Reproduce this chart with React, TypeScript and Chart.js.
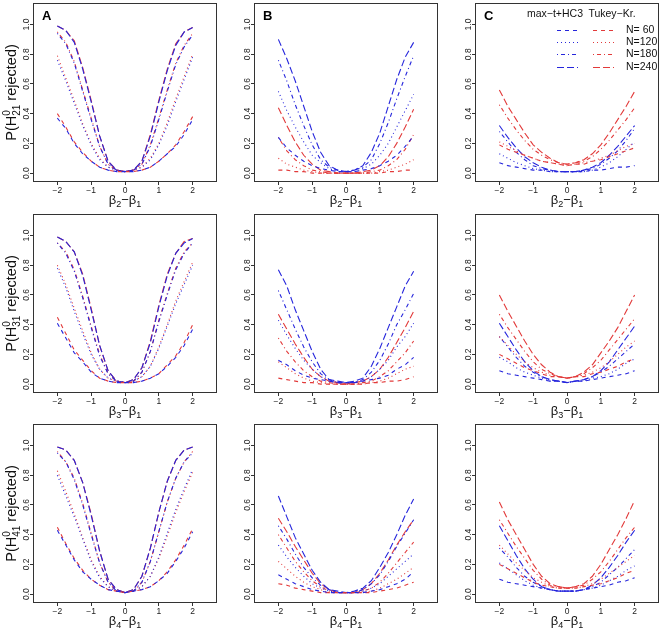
import React, { useEffect, useRef } from "react";
import { Chart, registerables } from "chart.js";

Chart.register(...registerables);

// ---------------- data ----------------
const X_VALUES = [-2, -1.75, -1.5, -1.25, -1, -0.75, -0.5, -0.25, 0, 0.25, 0.5, 0.75, 1, 1.25, 1.5, 1.75, 2];
const X_TICKS = [-2, -1, 0, 1, 2];
const X_TICK_LABELS = ["\u22122", "\u22121", "0", "1", "2"];
const Y_TICKS = [0, 0.2, 0.4, 0.6, 0.8, 1.0];
const Y_TICK_LABELS = ["0.0", "0.2", "0.4", "0.6", "0.8", "1.0"];
const N_LABELS = ["N= 60", "N=120", "N=180", "N=240"];
const METHOD_LABELS = ["max\u2212t+HC3", "Tukey\u2212Kr."];
const PANEL_LETTERS = ["A", "B", "C"];
const H_SUBSCRIPTS = ["21", "31", "41"];
const BETA_SUBSCRIPTS = ["2", "3", "4"];

// Column A, H21
const A21_MAXT_60 = [0.37, 0.30, 0.20, 0.13, 0.08, 0.04, 0.02, 0.01, 0.01, 0.01, 0.02, 0.04, 0.08, 0.13, 0.18, 0.26, 0.36];
const A21_MAXT_120 = [0.76, 0.62, 0.47, 0.32, 0.19, 0.09, 0.04, 0.02, 0.01, 0.02, 0.04, 0.09, 0.19, 0.32, 0.48, 0.63, 0.78];
const A21_MAXT_180 = [0.94, 0.87, 0.74, 0.55, 0.36, 0.18, 0.06, 0.02, 0.01, 0.02, 0.06, 0.18, 0.36, 0.55, 0.73, 0.85, 0.93];
const A21_MAXT_240 = [0.99, 0.96, 0.88, 0.70, 0.48, 0.25, 0.08, 0.02, 0.01, 0.02, 0.08, 0.25, 0.48, 0.69, 0.86, 0.95, 0.98];
const A21_TK_60 = [0.40, 0.31, 0.21, 0.14, 0.08, 0.04, 0.02, 0.01, 0.01, 0.01, 0.02, 0.04, 0.08, 0.13, 0.19, 0.28, 0.38];
const A21_TK_120 = [0.79, 0.64, 0.49, 0.33, 0.20, 0.10, 0.04, 0.02, 0.01, 0.02, 0.04, 0.10, 0.20, 0.34, 0.50, 0.65, 0.80];
const A21_TK_180 = [0.95, 0.88, 0.75, 0.56, 0.37, 0.18, 0.06, 0.02, 0.01, 0.02, 0.06, 0.19, 0.37, 0.56, 0.74, 0.86, 0.94];
const A21_TK_240 = [0.99, 0.96, 0.89, 0.71, 0.49, 0.25, 0.08, 0.02, 0.01, 0.02, 0.08, 0.26, 0.49, 0.70, 0.87, 0.95, 0.98];

// Column A, H31
const A31_MAXT_60 = [0.41, 0.31, 0.21, 0.15, 0.08, 0.04, 0.02, 0.01, 0.01, 0.01, 0.02, 0.04, 0.07, 0.12, 0.18, 0.26, 0.37];
const A31_MAXT_120 = [0.78, 0.65, 0.49, 0.34, 0.20, 0.10, 0.04, 0.02, 0.01, 0.02, 0.05, 0.12, 0.24, 0.39, 0.54, 0.67, 0.80];
const A31_MAXT_180 = [0.95, 0.88, 0.76, 0.58, 0.38, 0.19, 0.07, 0.02, 0.01, 0.02, 0.08, 0.22, 0.42, 0.60, 0.77, 0.88, 0.95];
const A31_MAXT_240 = [0.99, 0.96, 0.89, 0.73, 0.50, 0.26, 0.09, 0.02, 0.01, 0.03, 0.11, 0.28, 0.52, 0.73, 0.88, 0.95, 0.98];
const A31_TK_60 = [0.45, 0.34, 0.23, 0.16, 0.09, 0.04, 0.02, 0.01, 0.01, 0.01, 0.02, 0.04, 0.07, 0.13, 0.19, 0.28, 0.40];
const A31_TK_120 = [0.80, 0.67, 0.51, 0.36, 0.21, 0.10, 0.04, 0.02, 0.01, 0.02, 0.05, 0.12, 0.25, 0.40, 0.56, 0.69, 0.82];
const A31_TK_180 = [0.95, 0.89, 0.77, 0.59, 0.39, 0.20, 0.07, 0.02, 0.01, 0.02, 0.08, 0.22, 0.43, 0.61, 0.78, 0.89, 0.95];
const A31_TK_240 = [0.99, 0.96, 0.89, 0.74, 0.51, 0.26, 0.09, 0.02, 0.01, 0.03, 0.11, 0.29, 0.53, 0.74, 0.88, 0.96, 0.98];

// Column A, H41
const A41_MAXT_60 = [0.43, 0.33, 0.23, 0.15, 0.10, 0.06, 0.03, 0.02, 0.01, 0.02, 0.03, 0.05, 0.09, 0.14, 0.22, 0.31, 0.42];
const A41_MAXT_120 = [0.80, 0.66, 0.52, 0.37, 0.22, 0.11, 0.05, 0.02, 0.01, 0.02, 0.05, 0.12, 0.25, 0.41, 0.57, 0.71, 0.84];
const A41_MAXT_180 = [0.95, 0.89, 0.77, 0.60, 0.40, 0.21, 0.08, 0.02, 0.01, 0.02, 0.08, 0.22, 0.42, 0.62, 0.78, 0.89, 0.95];
const A41_MAXT_240 = [0.99, 0.97, 0.90, 0.75, 0.53, 0.29, 0.10, 0.03, 0.01, 0.03, 0.12, 0.31, 0.55, 0.76, 0.90, 0.97, 0.99];
const A41_TK_60 = [0.45, 0.34, 0.24, 0.16, 0.10, 0.06, 0.03, 0.02, 0.01, 0.02, 0.03, 0.05, 0.09, 0.15, 0.23, 0.33, 0.44];
const A41_TK_120 = [0.83, 0.69, 0.54, 0.38, 0.23, 0.12, 0.05, 0.02, 0.01, 0.02, 0.05, 0.12, 0.24, 0.39, 0.55, 0.69, 0.82];
const A41_TK_180 = [0.96, 0.89, 0.78, 0.61, 0.41, 0.21, 0.08, 0.02, 0.01, 0.02, 0.08, 0.22, 0.42, 0.62, 0.78, 0.89, 0.96];
const A41_TK_240 = [0.99, 0.97, 0.90, 0.75, 0.54, 0.29, 0.10, 0.03, 0.01, 0.03, 0.12, 0.31, 0.55, 0.76, 0.90, 0.97, 0.99];

// Column B, H21
const B21_MAXT_60 = [0.24, 0.17, 0.12, 0.08, 0.05, 0.03, 0.02, 0.01, 0.01, 0.01, 0.02, 0.03, 0.05, 0.08, 0.12, 0.18, 0.25];
const B21_MAXT_120 = [0.55, 0.42, 0.31, 0.21, 0.12, 0.07, 0.03, 0.01, 0.01, 0.01, 0.03, 0.06, 0.12, 0.20, 0.31, 0.42, 0.53];
const B21_MAXT_180 = [0.76, 0.62, 0.46, 0.32, 0.19, 0.09, 0.04, 0.02, 0.01, 0.02, 0.04, 0.09, 0.20, 0.34, 0.50, 0.65, 0.79];
const B21_MAXT_240 = [0.90, 0.77, 0.62, 0.45, 0.28, 0.14, 0.05, 0.02, 0.01, 0.02, 0.05, 0.14, 0.27, 0.45, 0.63, 0.78, 0.88];
const B21_TK_60 = [0.02, 0.02, 0.01, 0.01, 0.00, 0.00, 0.00, 0.00, 0.00, 0.00, 0.00, 0.00, 0.00, 0.01, 0.01, 0.02, 0.02];
const B21_TK_120 = [0.10, 0.06, 0.04, 0.02, 0.01, 0.00, 0.00, 0.00, 0.00, 0.00, 0.00, 0.00, 0.01, 0.02, 0.04, 0.06, 0.09];
const B21_TK_180 = [0.24, 0.15, 0.09, 0.05, 0.02, 0.01, 0.00, 0.00, 0.00, 0.00, 0.00, 0.01, 0.02, 0.05, 0.09, 0.16, 0.26];
const B21_TK_240 = [0.44, 0.32, 0.21, 0.12, 0.06, 0.02, 0.01, 0.00, 0.00, 0.00, 0.01, 0.02, 0.05, 0.11, 0.20, 0.31, 0.43];

// Column B, H31
const B31_MAXT_60 = [0.16, 0.13, 0.09, 0.06, 0.04, 0.03, 0.02, 0.01, 0.01, 0.01, 0.02, 0.03, 0.04, 0.06, 0.10, 0.13, 0.18];
const B31_MAXT_120 = [0.43, 0.33, 0.24, 0.16, 0.10, 0.05, 0.02, 0.01, 0.01, 0.01, 0.02, 0.05, 0.10, 0.16, 0.25, 0.32, 0.41];
const B31_MAXT_180 = [0.63, 0.50, 0.37, 0.25, 0.15, 0.07, 0.03, 0.01, 0.01, 0.01, 0.03, 0.08, 0.16, 0.27, 0.40, 0.50, 0.61];
const B31_MAXT_240 = [0.77, 0.66, 0.50, 0.36, 0.22, 0.10, 0.03, 0.02, 0.01, 0.02, 0.04, 0.12, 0.24, 0.38, 0.52, 0.66, 0.76];
const B31_TK_60 = [0.04, 0.03, 0.02, 0.01, 0.01, 0.00, 0.00, 0.00, 0.00, 0.00, 0.00, 0.01, 0.01, 0.02, 0.02, 0.03, 0.05];
const B31_TK_120 = [0.15, 0.11, 0.07, 0.04, 0.02, 0.01, 0.00, 0.00, 0.00, 0.00, 0.00, 0.01, 0.02, 0.04, 0.07, 0.10, 0.12];
const B31_TK_180 = [0.31, 0.22, 0.15, 0.09, 0.05, 0.02, 0.01, 0.00, 0.00, 0.00, 0.01, 0.02, 0.05, 0.09, 0.15, 0.21, 0.29];
const B31_TK_240 = [0.47, 0.37, 0.27, 0.18, 0.10, 0.05, 0.02, 0.01, 0.00, 0.01, 0.02, 0.05, 0.10, 0.18, 0.28, 0.38, 0.49];

// Column B, H41
const B41_MAXT_60 = [0.13, 0.10, 0.07, 0.05, 0.03, 0.02, 0.01, 0.01, 0.01, 0.01, 0.01, 0.02, 0.03, 0.05, 0.07, 0.10, 0.15];
const B41_MAXT_120 = [0.33, 0.25, 0.18, 0.12, 0.07, 0.04, 0.02, 0.01, 0.01, 0.01, 0.02, 0.04, 0.07, 0.12, 0.17, 0.22, 0.27];
const B41_MAXT_180 = [0.46, 0.37, 0.27, 0.18, 0.11, 0.06, 0.03, 0.01, 0.01, 0.01, 0.03, 0.07, 0.13, 0.22, 0.32, 0.41, 0.50];
const B41_MAXT_240 = [0.66, 0.52, 0.38, 0.27, 0.16, 0.08, 0.03, 0.02, 0.01, 0.02, 0.04, 0.09, 0.18, 0.28, 0.40, 0.53, 0.64];
const B41_TK_60 = [0.07, 0.06, 0.04, 0.03, 0.02, 0.01, 0.01, 0.01, 0.01, 0.01, 0.01, 0.01, 0.02, 0.03, 0.04, 0.06, 0.08];
const B41_TK_120 = [0.22, 0.17, 0.12, 0.08, 0.05, 0.03, 0.01, 0.01, 0.01, 0.01, 0.01, 0.02, 0.04, 0.07, 0.10, 0.14, 0.18];
const B41_TK_180 = [0.40, 0.31, 0.22, 0.15, 0.09, 0.05, 0.02, 0.01, 0.01, 0.01, 0.02, 0.04, 0.08, 0.14, 0.21, 0.28, 0.35];
const B41_TK_240 = [0.51, 0.42, 0.32, 0.23, 0.14, 0.07, 0.03, 0.01, 0.01, 0.01, 0.03, 0.07, 0.14, 0.23, 0.33, 0.42, 0.50];

// Column C, H21
const C21_MAXT_60 = [0.07, 0.05, 0.04, 0.03, 0.02, 0.02, 0.01, 0.01, 0.01, 0.01, 0.01, 0.02, 0.02, 0.03, 0.04, 0.04, 0.05];
const C21_MAXT_120 = [0.13, 0.10, 0.07, 0.05, 0.03, 0.02, 0.01, 0.01, 0.01, 0.01, 0.01, 0.02, 0.04, 0.07, 0.11, 0.16, 0.21];
const C21_MAXT_180 = [0.28, 0.21, 0.14, 0.09, 0.05, 0.03, 0.02, 0.01, 0.01, 0.01, 0.02, 0.03, 0.06, 0.10, 0.15, 0.22, 0.30];
const C21_MAXT_240 = [0.32, 0.24, 0.17, 0.11, 0.07, 0.04, 0.02, 0.01, 0.01, 0.01, 0.02, 0.04, 0.07, 0.12, 0.18, 0.25, 0.32];
const C21_TK_60 = [0.19, 0.16, 0.14, 0.12, 0.10, 0.08, 0.07, 0.06, 0.05, 0.06, 0.06, 0.08, 0.09, 0.11, 0.13, 0.15, 0.17];
const C21_TK_120 = [0.21, 0.18, 0.15, 0.12, 0.10, 0.08, 0.07, 0.06, 0.05, 0.06, 0.07, 0.08, 0.10, 0.12, 0.15, 0.18, 0.20];
const C21_TK_180 = [0.46, 0.37, 0.29, 0.22, 0.16, 0.12, 0.09, 0.07, 0.06, 0.07, 0.08, 0.11, 0.16, 0.22, 0.29, 0.36, 0.44];
const C21_TK_240 = [0.56, 0.45, 0.36, 0.27, 0.19, 0.14, 0.10, 0.07, 0.06, 0.07, 0.09, 0.13, 0.19, 0.27, 0.36, 0.45, 0.55];

// Column C, H31
const C31_MAXT_60 = [0.09, 0.07, 0.06, 0.05, 0.04, 0.03, 0.02, 0.02, 0.01, 0.02, 0.02, 0.03, 0.04, 0.05, 0.06, 0.07, 0.09];
const C31_MAXT_120 = [0.18, 0.15, 0.11, 0.08, 0.06, 0.04, 0.02, 0.02, 0.01, 0.02, 0.02, 0.04, 0.05, 0.07, 0.10, 0.14, 0.17];
const C31_MAXT_180 = [0.32, 0.25, 0.18, 0.12, 0.08, 0.05, 0.03, 0.02, 0.01, 0.02, 0.03, 0.05, 0.08, 0.12, 0.17, 0.22, 0.27];
const C31_MAXT_240 = [0.41, 0.32, 0.23, 0.15, 0.09, 0.05, 0.03, 0.02, 0.01, 0.02, 0.03, 0.05, 0.09, 0.15, 0.23, 0.31, 0.39];
const C31_TK_60 = [0.20, 0.17, 0.14, 0.11, 0.09, 0.07, 0.05, 0.05, 0.04, 0.05, 0.05, 0.07, 0.08, 0.10, 0.12, 0.15, 0.17];
const C31_TK_120 = [0.32, 0.26, 0.20, 0.15, 0.11, 0.08, 0.06, 0.05, 0.04, 0.05, 0.06, 0.08, 0.11, 0.15, 0.20, 0.25, 0.29];
const C31_TK_180 = [0.47, 0.38, 0.30, 0.22, 0.15, 0.10, 0.07, 0.05, 0.04, 0.05, 0.07, 0.11, 0.16, 0.23, 0.30, 0.37, 0.44];
const C31_TK_240 = [0.60, 0.49, 0.39, 0.29, 0.20, 0.13, 0.08, 0.05, 0.04, 0.05, 0.08, 0.13, 0.21, 0.29, 0.38, 0.49, 0.60];

// Column C, H41
const C41_MAXT_60 = [0.10, 0.08, 0.07, 0.06, 0.05, 0.04, 0.03, 0.02, 0.02, 0.02, 0.03, 0.04, 0.05, 0.06, 0.08, 0.09, 0.11];
const C41_MAXT_120 = [0.21, 0.17, 0.13, 0.09, 0.06, 0.04, 0.03, 0.02, 0.02, 0.02, 0.03, 0.04, 0.06, 0.09, 0.12, 0.16, 0.19];
const C41_MAXT_180 = [0.31, 0.25, 0.18, 0.12, 0.08, 0.05, 0.03, 0.02, 0.02, 0.02, 0.03, 0.05, 0.08, 0.13, 0.18, 0.24, 0.30];
const C41_MAXT_240 = [0.46, 0.36, 0.26, 0.17, 0.10, 0.05, 0.03, 0.02, 0.02, 0.02, 0.03, 0.06, 0.11, 0.18, 0.26, 0.35, 0.43];
const C41_TK_60 = [0.20, 0.17, 0.14, 0.11, 0.08, 0.06, 0.05, 0.04, 0.04, 0.04, 0.05, 0.06, 0.07, 0.09, 0.11, 0.14, 0.16];
const C41_TK_120 = [0.33, 0.27, 0.21, 0.16, 0.11, 0.08, 0.05, 0.04, 0.04, 0.04, 0.05, 0.07, 0.10, 0.14, 0.18, 0.22, 0.26];
const C41_TK_180 = [0.50, 0.41, 0.32, 0.24, 0.16, 0.10, 0.06, 0.05, 0.04, 0.05, 0.06, 0.10, 0.15, 0.22, 0.30, 0.38, 0.45];
const C41_TK_240 = [0.62, 0.50, 0.40, 0.30, 0.20, 0.12, 0.07, 0.05, 0.04, 0.05, 0.07, 0.12, 0.20, 0.30, 0.40, 0.51, 0.63];

// grid of panels [row][col] -> { maxt: [N60..N240], tukey: [N60..N240] }
const PANELS = [
  [
    { maxt: [A21_MAXT_60, A21_MAXT_120, A21_MAXT_180, A21_MAXT_240], tukey: [A21_TK_60, A21_TK_120, A21_TK_180, A21_TK_240] },
    { maxt: [B21_MAXT_60, B21_MAXT_120, B21_MAXT_180, B21_MAXT_240], tukey: [B21_TK_60, B21_TK_120, B21_TK_180, B21_TK_240] },
    { maxt: [C21_MAXT_60, C21_MAXT_120, C21_MAXT_180, C21_MAXT_240], tukey: [C21_TK_60, C21_TK_120, C21_TK_180, C21_TK_240] },
  ],
  [
    { maxt: [A31_MAXT_60, A31_MAXT_120, A31_MAXT_180, A31_MAXT_240], tukey: [A31_TK_60, A31_TK_120, A31_TK_180, A31_TK_240] },
    { maxt: [B31_MAXT_60, B31_MAXT_120, B31_MAXT_180, B31_MAXT_240], tukey: [B31_TK_60, B31_TK_120, B31_TK_180, B31_TK_240] },
    { maxt: [C31_MAXT_60, C31_MAXT_120, C31_MAXT_180, C31_MAXT_240], tukey: [C31_TK_60, C31_TK_120, C31_TK_180, C31_TK_240] },
  ],
  [
    { maxt: [A41_MAXT_60, A41_MAXT_120, A41_MAXT_180, A41_MAXT_240], tukey: [A41_TK_60, A41_TK_120, A41_TK_180, A41_TK_240] },
    { maxt: [B41_MAXT_60, B41_MAXT_120, B41_MAXT_180, B41_MAXT_240], tukey: [B41_TK_60, B41_TK_120, B41_TK_180, B41_TK_240] },
    { maxt: [C41_MAXT_60, C41_MAXT_120, C41_MAXT_180, C41_MAXT_240], tukey: [C41_TK_60, C41_TK_120, C41_TK_180, C41_TK_240] },
  ],
];

// ---------------- styles ----------------
const BLUE = "#2626dc";
const RED = "#e23a3a";
const DASHES = [[4, 4], [1, 3], [1, 3, 4, 3], [7, 3]];
const FONT = "'Liberation Sans', Arial, Helvetica, sans-serif";
const AXIS_COLOR = "#333";

const CELL_W = 221;
const CELL_H = 211;
const ROW_TOPS = [0, 211, 421];
const BOX_LEFT = 33;
const BOX_TOP = 3;
const BOX_W = 184;
const BOX_H = 179;

function drawRich(ctx: CanvasRenderingContext2D, parts: { t: string; kind: "n" | "sub" | "stack"; t2?: string }[], cx: number, cy: number, size: number) {
  const small = Math.round(size * 0.7);
  const measure = (p: any) => {
    if (p.kind === "n") { ctx.font = `${size}px ${FONT}`; return ctx.measureText(p.t).width; }
    ctx.font = `${small}px ${FONT}`;
    if (p.kind === "sub") return ctx.measureText(p.t).width;
    return Math.max(ctx.measureText(p.t).width, ctx.measureText(p.t2).width);
  };
  const widths = parts.map(measure);
  const total = widths.reduce((a, b) => a + b, 0);
  let x = cx - total / 2;
  ctx.textBaseline = "alphabetic";
  ctx.textAlign = "left";
  const base = cy + size * 0.35;
  parts.forEach((p, i) => {
    if (p.kind === "n") {
      ctx.font = `${size}px ${FONT}`;
      ctx.fillText(p.t, x, base);
    } else if (p.kind === "sub") {
      ctx.font = `${small}px ${FONT}`;
      ctx.fillText(p.t, x, base + size * 0.25);
    } else {
      ctx.font = `${small}px ${FONT}`;
      ctx.fillText(p.t, x, base - size * 0.45);
      ctx.fillText(p.t2 as string, x, base + size * 0.28);
    }
    x += widths[i];
  });
}

function makeDecor(row: number, col: number) {
  return {
    id: "decor" + row + col,
    afterDraw(chart: any) {
      const { ctx, chartArea, scales } = chart;
      const { left, right, top, bottom } = chartArea;
      ctx.save();
      // box
      ctx.strokeStyle = AXIS_COLOR;
      ctx.lineWidth = 1;
      ctx.setLineDash([]);
      ctx.strokeRect(Math.round(left) + 0.5, Math.round(top) + 0.5, Math.round(right - left) - 1, Math.round(bottom - top) - 1);
      // y tick labels (rotated as in R)
      ctx.fillStyle = "#222";
      ctx.font = `8.5px ${FONT}`;
      ctx.textAlign = "center";
      ctx.textBaseline = "middle";
      Y_TICKS.forEach((v, i) => {
        const y = scales.y.getPixelForValue(v);
        ctx.save();
        ctx.translate(left - 6.5, y);
        ctx.rotate(-Math.PI / 2);
        ctx.fillText(Y_TICK_LABELS[i], 0, 0);
        ctx.restore();
      });
      // x title
      ctx.fillStyle = "#111";
      drawRich(ctx, [
        { t: "\u03b2", kind: "n" },
        { t: BETA_SUBSCRIPTS[row], kind: "sub" },
        { t: "\u2212\u03b2", kind: "n" },
        { t: "1", kind: "sub" },
      ], (left + right) / 2, bottom + 17, 13);
      // y title (first column only)
      if (col === 0) {
        ctx.save();
        ctx.translate(left - 22, (top + bottom) / 2);
        ctx.rotate(-Math.PI / 2);
        drawRich(ctx, [
          { t: "P(H", kind: "n" },
          { t: "0", t2: H_SUBSCRIPTS[row], kind: "stack" },
          { t: " rejected)", kind: "n" },
        ], 0, 0, 14.5);
        ctx.restore();
      }
      // panel letter
      if (row === 0) {
        ctx.fillStyle = "#000";
        ctx.font = `bold 13px ${FONT}`;
        ctx.textAlign = "left";
        ctx.textBaseline = "middle";
        ctx.fillText(PANEL_LETTERS[col], left + 9, top + 13);
      }
      // legend
      if (row === 0 && col === 2) {
        ctx.fillStyle = "#111";
        ctx.font = `10.5px ${FONT}`;
        ctx.textAlign = "center";
        ctx.textBaseline = "middle";
        ctx.fillText(METHOD_LABELS[0], left + 80, top + 11);
        ctx.fillText(METHOD_LABELS[1], left + 137, top + 11);
        const rowsY = [27, 39.3, 51, 63.5];
        N_LABELS.forEach((lab, i) => {
          const y = Math.round(top + rowsY[i]) + 0.5;
          ctx.lineWidth = 1;
          ctx.setLineDash(DASHES[i]);
          ctx.strokeStyle = BLUE;
          ctx.beginPath(); ctx.moveTo(left + 82, y); ctx.lineTo(left + 103, y); ctx.stroke();
          ctx.strokeStyle = RED;
          ctx.beginPath(); ctx.moveTo(left + 118, y); ctx.lineTo(left + 139, y); ctx.stroke();
          ctx.setLineDash([]);
          ctx.textAlign = "left";
          ctx.fillText(lab, left + 151, y);
        });
      }
      ctx.restore();
    },
  };
}

function buildConfig(row: number, col: number): any {
  const panel = PANELS[row][col];
  const datasets: any[] = [];
  [0, 1, 2, 3].forEach((k) => {
    datasets.push({
      label: METHOD_LABELS[0] + " " + N_LABELS[k],
      data: X_VALUES.map((x, i) => ({ x, y: panel.maxt[k][i] })),
      borderColor: BLUE,
      borderWidth: 1.1,
      borderDash: DASHES[k],
      pointRadius: 0,
      fill: false,
      tension: 0,
    });
    datasets.push({
      label: METHOD_LABELS[1] + " " + N_LABELS[k],
      data: X_VALUES.map((x, i) => ({ x, y: panel.tukey[k][i] })),
      borderColor: RED,
      borderWidth: 1.1,
      borderDash: DASHES[k],
      pointRadius: 0,
      fill: false,
      tension: 0,
    });
  });
  return {
    type: "line",
    data: { datasets },
    options: {
      animation: false,
      responsive: false,
      maintainAspectRatio: false,
      devicePixelRatio: 1,
      layout: { padding: { top: BOX_TOP, right: CELL_W - BOX_LEFT - BOX_W, left: 0, bottom: 0 } },
      plugins: { legend: { display: false }, tooltip: { enabled: false }, title: { display: false } },
      scales: {
        x: {
          type: "linear",
          min: -2.72,
          max: 2.72,
          afterBuildTicks: (s: any) => { s.ticks = X_TICKS.map((v) => ({ value: v })); },
          afterFit: (s: any) => { s.height = CELL_H - BOX_TOP - BOX_H; },
          ticks: {
            autoSkip: false,
            maxRotation: 0,
            minRotation: 0,
            padding: 1,
            color: "#222",
            font: { size: 8.5, family: FONT },
            callback: (v: number) => X_TICK_LABELS[X_TICKS.indexOf(v)] ?? "",
          },
          grid: { display: true, drawOnChartArea: false, drawTicks: true, tickLength: 3, color: AXIS_COLOR },
          border: { display: false },
        },
        y: {
          type: "linear",
          min: -0.06,
          max: 1.145,
          afterBuildTicks: (s: any) => { s.ticks = Y_TICKS.map((v) => ({ value: v })); },
          afterFit: (s: any) => { s.width = BOX_LEFT; },
          ticks: { display: false },
          grid: { display: true, drawOnChartArea: false, drawTicks: true, tickLength: 3, color: AXIS_COLOR },
          border: { display: false },
        },
      },
    },
    plugins: [makeDecor(row, col)],
  };
}

function Panel({ row, col }: { row: number; col: number }) {
  const ref = useRef<HTMLCanvasElement>(null);
  useEffect(() => {
    const chart = new Chart(ref.current as HTMLCanvasElement, buildConfig(row, col));
    return () => chart.destroy();
  }, [row, col]);
  return (
    <canvas
      ref={ref}
      width={CELL_W}
      height={CELL_H}
      style={{ position: "absolute", left: col * CELL_W, top: ROW_TOPS[row], width: CELL_W, height: CELL_H }}
    />
  );
}

export default function App() {
  return (
    <div style={{ position: "fixed", left: 0, top: 0, width: 662, height: 628, overflow: "hidden", background: "#fff" }}>
      {[0, 1, 2].map((r) => [0, 1, 2].map((c) => <Panel key={r + "-" + c} row={r} col={c} />))}
    </div>
  );
}
